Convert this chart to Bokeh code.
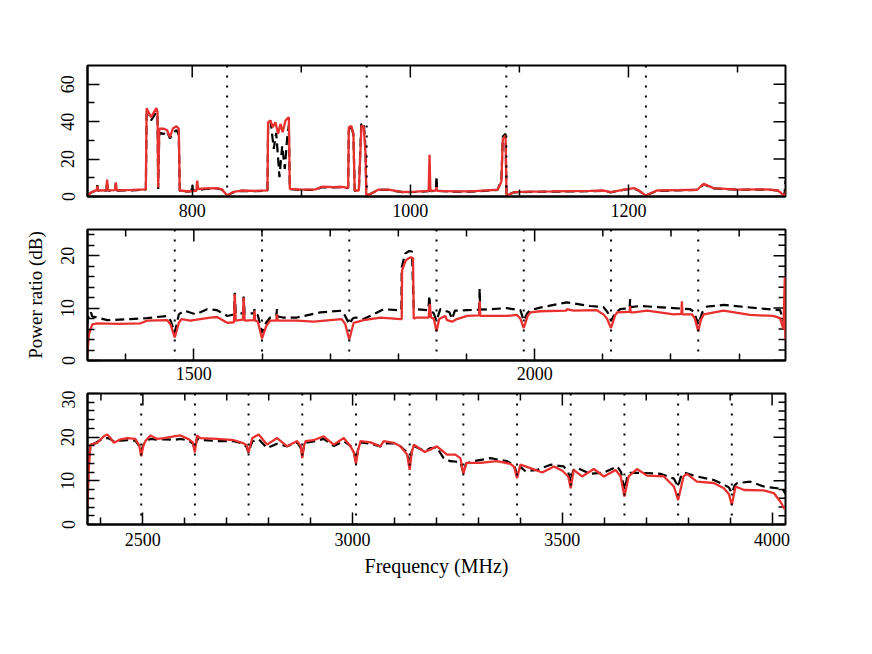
import math
from bokeh.plotting import figure
from bokeh.models import Range1d, FixedTicker, Span
from bokeh.layouts import column
from bokeh.embed import file_html
from bokeh.resources import INLINE

FONT = "Liberation Serif"
RED = "#e8312f"

# ---------------- data: (frequency MHz, power ratio dB) ----------------
RED_BAND1 = [
    (704, 0.5), (707, 2.0), (710, 3.0), (712.3, 3.2), (713, 5.5), (713.8, 3.2), (721.3, 3.3), (722, 9.0),
    (722.8, 3.3), (729.3, 3.4), (730, 7.5), (730.8, 3.3), (745, 3.5), (757.5, 3.8), (758.2, 47.2),
    (762.3, 42.4), (767.2, 47.2), (768.2, 45.0), (768.8, 5.0), (769.8, 36.2), (774, 36.2), (777, 35.4),
    (779.5, 31.7), (782.5, 36.5), (785.6, 37.5), (787.7, 36.2), (788.6, 3.2), (795, 2.8), (803.8, 3.0),
    (804.6, 8.5), (805.4, 4.0), (812, 4.3), (822, 4.5), (827, 4.0), (832, 0.5), (838, 2.5), (845, 3.2),
    (858, 3.0), (869, 3.3), (869.6, 39.7), (871.8, 40.6), (873.9, 37.0), (876.3, 39.7), (878.8, 33.5),
    (880.9, 38.8), (883, 34.4), (885.5, 40.6), (888.6, 42.4), (889.5, 4.1), (900, 3.7), (913, 3.8),
    (919, 5.2), (930, 5.0), (937, 5.2), (943, 4.6), (943.6, 37.0), (946, 37.6), (947.8, 33.5), (949, 3.2),
    (952.8, 3.2), (955.2, 37.9), (957.3, 37.0), (959, 21.9), (959.6, 0.9), (962, 0.9), (971, 3.7),
    (980, 3.7), (993, 2.4), (1005, 2.6), (1016.8, 3.0), (1017.6, 22.3), (1018.4, 3.0), (1023.4, 3.2),
    (1024, 5.0), (1024.6, 3.0), (1040, 2.7), (1055, 2.7), (1070, 3.3), (1080, 3.6), (1083.5, 8.0),
    (1084.8, 30.8), (1087.3, 32.6), (1088.2, 0.5), (1095, 2.3), (1110, 2.6), (1130, 2.7), (1147, 2.9),
    (1165, 3.0), (1177.5, 3.2), (1183.6, 2.3), (1195, 3.6), (1205, 4.5), (1210, 3.0), (1216, 0.5),
    (1226, 3.2), (1245, 3.4), (1263, 3.6), (1269, 6.8), (1278, 4.5), (1300, 3.7), (1320, 3.8),
    (1330, 3.7), (1337, 3.2), (1343, 0.5),
]
RED_BAND2 = [
    (1344, 1.5), (1346, 5.0), (1351, 6.9), (1358, 7.1), (1390, 7.0), (1422, 7.1), (1431.5, 7.6),
    (1461, 7.7), (1466, 6.8), (1472, 4.4), (1478, 7.2), (1482, 7.9), (1495, 7.6), (1524, 8.2), (1534, 8.3),
    (1549, 7.2), (1559, 7.3), (1560, 12.7), (1561.5, 7.6), (1572, 7.8), (1573, 12.0), (1574.5, 7.6),
    (1588, 7.7), (1589, 9.5), (1590, 7.6), (1594, 7.4), (1600, 4.2), (1606, 6.5), (1612, 7.6), (1621, 7.6),
    (1622, 8.8), (1623, 7.6), (1651, 7.6), (1676, 7.4), (1700, 7.7), (1717, 7.9), (1722, 7.0), (1728, 4.0),
    (1734.5, 7.2), (1749, 7.7), (1774, 8.2), (1803, 7.9), (1805, 7.9), (1805.5, 17.2), (1808, 18.1),
    (1811, 19.1), (1815, 19.5), (1818.6, 19.7), (1821.6, 19.5), (1822.6, 8.0), (1827, 8.2), (1844.5, 8.2),
    (1846, 10.8), (1848, 8.2), (1852, 8.0), (1856, 5.6), (1860, 7.9), (1864, 8.2), (1869, 8.5),
    (1871.4, 7.7), (1879, 7.4), (1886, 7.9), (1901, 8.5), (1918.5, 8.6), (1919.3, 11.4), (1920.2, 8.5),
    (1959, 8.5), (1974, 8.7), (1979, 8.0), (1984, 6.2), (1990, 8.6), (1994, 9.2), (2008, 9.4),
    (2046.5, 9.5), (2047, 9.8), (2057, 9.5), (2091, 9.6), (2101, 8.8), (2106, 8.0), (2112, 6.2),
    (2118, 8.6), (2121, 9.2), (2139.3, 9.3), (2140, 10.4), (2140.8, 9.2), (2145, 9.2), (2165, 9.5),
    (2204, 8.8), (2215.3, 8.9), (2216, 11.3), (2216.8, 8.8), (2231, 8.8), (2235, 8.0), (2240, 5.6),
    (2244, 7.8), (2248, 8.8), (2277, 9.5), (2316, 8.7), (2350, 8.5), (2360, 8.1), (2365, 6.0),
    (2367, 15.9),
]
RED_BAND3 = [
    (2368, 4.0), (2371, 12.5), (2375, 18.3), (2391, 18.7), (2407, 20.2), (2415, 20.6), (2423, 19.8),
    (2431, 18.7), (2447, 19.5), (2463, 19.8), (2482, 19.6), (2491, 18.2), (2496, 15.6), (2501, 18.0),
    (2506, 19.1), (2518, 20.4), (2534, 19.6), (2550, 19.8), (2574, 20.2), (2590, 20.4), (2610, 19.5),
    (2619, 18.8), (2624, 16.5), (2629, 20.4), (2637, 19.8), (2677, 19.6), (2717, 19.3), (2737, 18.7),
    (2747, 18.2), (2752, 16.5), (2757, 18.5), (2761, 19.8), (2776, 20.6), (2796, 18.3), (2820, 19.8),
    (2844, 17.9), (2868, 19.1), (2876, 18.0), (2880, 15.2), (2884, 18.0), (2888, 19.1), (2907, 19.3),
    (2931, 20.2), (2955, 18.3), (2979, 19.8), (2995, 17.9), (3003, 16.5), (3008, 13.9), (3013, 17.0),
    (3019, 19.1), (3043, 18.8), (3066, 17.9), (3074, 19.1), (3098, 18.7), (3114, 17.9), (3130, 16.0),
    (3136, 12.5), (3141, 16.5), (3146, 18.3), (3172, 16.6), (3186, 17.2), (3201, 17.9), (3225, 16.0),
    (3245, 16.0), (3257, 15.2), (3264, 11.6), (3271, 14.1), (3305, 14.1), (3344, 14.5), (3376, 13.9),
    (3385, 13.2), (3392, 10.6), (3400, 13.7), (3424, 12.9), (3452, 11.9), (3480, 13.3), (3500, 12.3),
    (3514, 11.0), (3520, 8.3), (3527, 12.5), (3547, 11.0), (3575, 12.7), (3599, 11.0), (3627, 12.5),
    (3639, 11.0), (3648, 6.4), (3658, 11.0), (3678, 12.7), (3702, 11.2), (3742, 11.0), (3766, 8.7),
    (3776, 5.6), (3789, 11.0), (3797, 11.6), (3821, 9.8), (3861, 9.5), (3885, 8.3), (3897, 7.0),
    (3904, 4.5), (3913, 8.7), (3933, 7.9), (3980, 7.8), (4004, 7.2), (4020, 5.2), (4030, 3.5),
]

BLACK_BAND1 = [
    (704, 0.5), (707, 2.0), (710, 2.8), (712.3, 3.0), (713, 6.0), (713.8, 3.0), (721.3, 3.1), (722, 8.0),
    (722.8, 3.1), (729.3, 3.2), (730, 7.0), (730.8, 3.1), (745, 3.3), (757.5, 3.6), (758.2, 44.0),
    (762.3, 40.7), (767.2, 45.0), (768.2, 43.0), (768.8, 4.0), (769.8, 34.0), (774, 33.5), (777, 35.0),
    (779.5, 31.0), (782.5, 34.0), (785.6, 35.5), (787.7, 33.0), (788.6, 3.0), (795, 2.6), (799.3, 2.8),
    (800, 6.6), (800.7, 3.0), (812, 4.0), (822, 4.3), (827, 3.8), (832, 0.6), (838, 2.3), (845, 3.0),
    (858, 2.8), (869, 3.1), (869.6, 38.0), (871.8, 40.6), (874.8, 25.5), (877, 34.0), (878.8, 20.1),
    (880, 10.3), (882.5, 27.0), (884.9, 14.8), (887, 30.8), (888.6, 38.0), (889.5, 4.0), (900, 3.5),
    (913, 3.6), (919, 5.0), (930, 4.8), (937, 5.0), (943, 4.4), (943.6, 35.0), (945.5, 38.5),
    (947.8, 33.0), (949, 3.0), (952.8, 3.0), (955, 38.5), (957.3, 39.5), (959, 25.0), (959.6, 1.0),
    (962, 1.0), (971, 3.5), (980, 3.5), (993, 2.3), (1005, 2.5), (1016.8, 2.8), (1017.6, 6.0),
    (1018.4, 2.8), (1023.4, 3.0), (1024, 11.0), (1024.6, 3.0), (1040, 2.6), (1055, 2.6), (1070, 3.1),
    (1080, 3.5), (1083.5, 9.0), (1084.8, 32.0), (1087.3, 33.5), (1088.2, 0.6), (1095, 2.2), (1110, 2.5),
    (1130, 2.6), (1147, 2.7), (1165, 2.9), (1177.5, 3.0), (1183.6, 2.2), (1195, 3.5), (1205, 4.3),
    (1210, 2.9), (1216, 0.6), (1226, 3.0), (1245, 3.3), (1263, 3.5), (1269, 6.5), (1278, 4.3),
    (1300, 3.6), (1320, 3.7), (1330, 3.6), (1337, 3.1), (1343, 0.6),
]
BLACK_BAND2 = [
    (1344, 8.2), (1348, 8.4), (1349, 9.2), (1351, 8.4), (1358, 8.2), (1373, 7.7), (1407, 7.9),
    (1431.5, 8.1), (1461, 8.5), (1466, 7.6), (1472, 5.3), (1478, 8.8), (1486, 9.5), (1503, 8.8),
    (1519.5, 9.8), (1534, 9.6), (1549, 8.5), (1559, 8.8), (1560, 12.9), (1561.5, 9.0), (1572, 9.0),
    (1573, 12.2), (1574.5, 9.0), (1588, 9.0), (1589, 9.8), (1590, 9.0), (1594, 8.6), (1600, 5.3),
    (1606, 7.2), (1612, 8.2), (1621, 8.5), (1622, 9.8), (1623, 8.4), (1631, 8.2), (1651, 8.2),
    (1686, 9.2), (1717, 9.5), (1722, 8.5), (1728, 6.9), (1733, 8.0), (1737, 8.2), (1749, 7.9),
    (1779, 9.8), (1798, 9.6), (1804.5, 9.6), (1805, 17.8), (1810, 20.4), (1816, 20.9), (1820, 20.8),
    (1822.6, 9.8), (1844, 9.6), (1845.5, 12.4), (1847, 9.6), (1852, 9.0), (1856, 7.6), (1861.6, 9.8),
    (1875, 9.2), (1878.7, 7.9), (1883, 9.5), (1900.7, 9.6), (1918.5, 9.7), (1919.3, 13.7),
    (1920.1, 9.7), (1935, 9.8), (1959, 10.0), (1979, 9.6), (1984, 7.6), (1989, 9.0), (1993.6, 9.6),
    (2008, 10.1), (2047, 11.1), (2081.5, 10.4), (2101, 10.2), (2107, 9.2), (2112, 7.6), (2118, 9.0),
    (2125.5, 9.8), (2139.3, 10.0), (2140, 11.7), (2140.8, 10.2), (2155, 10.4), (2204, 10.0),
    (2228, 9.8), (2234, 9.2), (2240, 6.9), (2246, 9.2), (2253, 10.3), (2277, 10.6), (2326, 10.0),
    (2360, 9.6), (2365, 7.6),
]
BLACK_BAND3 = [
    (2368, 8.0), (2371, 14.0), (2375, 18.0), (2391, 18.9), (2407, 19.8), (2415, 19.8), (2423, 19.5),
    (2431, 19.0), (2447, 19.2), (2463, 19.3), (2482, 19.2), (2491, 18.0), (2496, 16.8), (2501, 18.2),
    (2506, 19.0), (2518, 19.6), (2534, 19.4), (2550, 19.5), (2574, 19.4), (2590, 19.6), (2610, 19.2),
    (2619, 18.5), (2624, 17.2), (2629, 19.6), (2637, 19.4), (2677, 19.1), (2717, 19.1), (2737, 18.6),
    (2747, 17.8), (2752, 16.4), (2757, 18.0), (2761, 19.0), (2776, 19.5), (2796, 17.5), (2820, 18.5),
    (2844, 17.9), (2868, 18.8), (2876, 17.6), (2880, 16.0), (2884, 17.8), (2888, 18.7), (2907, 19.0),
    (2931, 19.6), (2955, 18.0), (2979, 19.1), (2995, 18.0), (3003, 16.5), (3008, 14.5), (3013, 17.2),
    (3019, 18.8), (3043, 18.5), (3066, 17.9), (3074, 18.6), (3098, 18.6), (3114, 17.9), (3130, 16.5),
    (3136, 13.8), (3141, 16.8), (3146, 18.0), (3172, 16.8), (3186, 17.5), (3201, 17.6), (3217, 15.2),
    (3233, 14.5), (3257, 14.3), (3264, 11.9), (3271, 14.0), (3289, 14.5), (3329, 15.2), (3368, 14.5),
    (3385, 13.6), (3392, 11.5), (3400, 13.2), (3412, 12.2), (3440, 12.5), (3472, 13.7), (3503, 13.3),
    (3514, 12.0), (3520, 9.8), (3526, 12.4), (3535, 13.0), (3567, 11.6), (3599, 11.9), (3631, 13.3),
    (3640, 12.0), (3648, 7.9), (3655, 11.0), (3662, 11.8), (3694, 11.8), (3734, 11.6), (3766, 10.5),
    (3776, 8.7), (3782, 10.8), (3790, 11.9), (3821, 11.0), (3861, 10.2), (3885, 9.1), (3897, 8.5),
    (3904, 7.2), (3911, 9.0), (3917, 9.5), (3948, 9.8), (3980, 8.7), (4012, 8.3), (4024, 8.3),
    (4032, 7.0),
]

DOTTED_MHZ = [832, 960, 1088, 1216, 1472, 1600, 1728, 1856, 1984, 2112, 2240,
              2496, 2624, 2752, 2880, 3008, 3136, 3264, 3392, 3520, 3648, 3776, 3904]

X_RANGES = [(704, 1344), (1344, 2368), (2368, 4032)]
Y_RANGES = [(0, 70), (0, 25), (0, 30)]
X_MAJOR = [[800, 1000, 1200], [1500, 2000], [2500, 3000, 3500, 4000]]
X_MINOR = [[900, 1100, 1300],
           [1400, 1600, 1700, 1800, 1900, 2100, 2200, 2300],
           [2400, 2600, 2700, 2800, 2900, 3100, 3200, 3300, 3400, 3600, 3700, 3800, 3900]]
Y_MAJOR = [[0, 20, 40, 60], [0, 10, 20], [0, 10, 20, 30]]
Y_MINOR = [[10, 30, 50],
           [2, 4, 6, 8, 12, 14, 16, 18, 22, 24],
           [2, 4, 6, 8, 12, 14, 16, 18, 22, 24, 26, 28]]

Y_LABEL = "Power ratio (dB)"
X_LABEL = "Frequency (MHz)"

RED_ALL = RED_BAND1 + RED_BAND2 + RED_BAND3
BLACK_ALL = BLACK_BAND1 + BLACK_BAND2 + BLACK_BAND3

LAYOUT = [
    dict(top=65, bottom=30, xstand=7),
    dict(top=3, bottom=30, xstand=6),
    dict(top=3, bottom=72, xstand=8),
]

MAJOR_LEN = 12
MINOR_LEN = 7


def style_axis(ax):
    ax.axis_line_color = "black"
    ax.axis_line_width = 2
    ax.major_tick_line_color = "black"
    ax.major_tick_line_width = 1.5
    ax.minor_tick_line_color = "black"
    ax.minor_tick_line_width = 1.5
    ax.major_tick_in = MAJOR_LEN
    ax.major_tick_out = 0
    ax.minor_tick_in = MINOR_LEN
    ax.minor_tick_out = 0
    ax.major_label_text_font = FONT
    ax.major_label_text_color = "black"
    ax.major_label_text_font_size = "18px"


figs = []
for i in range(3):
    lay = LAYOUT[i]
    x0, x1 = X_RANGES[i]
    y0, y1 = Y_RANGES[i]
    p = figure(frame_width=698, frame_height=131,
               x_range=Range1d(x0, x1), y_range=Range1d(y0, y1),
               output_backend="svg", toolbar_location=None,
               min_border_left=87, min_border_right=12,
               min_border_top=lay["top"], min_border_bottom=lay["bottom"])
    p.grid.grid_line_color = None
    p.outline_line_color = "black"
    p.outline_line_width = 2
    p.background_fill_color = "white"
    p.border_fill_color = "white"

    xax = p.below[0]
    yax = p.left[0]
    xax.ticker = FixedTicker(ticks=X_MAJOR[i], minor_ticks=X_MINOR[i])
    yax.ticker = FixedTicker(ticks=Y_MAJOR[i], minor_ticks=Y_MINOR[i])
    style_axis(xax)
    style_axis(yax)
    xax.major_label_standoff = lay["xstand"]
    yax.major_label_orientation = "vertical"
    yax.major_label_standoff = 13

    # mirrored inward ticks on the top and right edges
    for ticks, ln in ((X_MAJOR[i], MAJOR_LEN), (X_MINOR[i], MINOR_LEN)):
        p.ray(x=ticks, y=[y1] * len(ticks), length=ln, length_units="screen",
              angle=-math.pi / 2, line_color="black", line_width=1.5)
    for ticks, ln in ((Y_MAJOR[i], MAJOR_LEN), (Y_MINOR[i], MINOR_LEN)):
        p.ray(x=[x1] * len(ticks), y=ticks, length=ln, length_units="screen",
              angle=math.pi, line_color="black", line_width=1.5)

    for f in DOTTED_MHZ:
        if x0 < f < x1:
            p.add_layout(Span(location=f, dimension="height", line_color="black",
                              line_width=2, line_dash="2 8"))

    p.line([f for f, v in BLACK_ALL], [v for f, v in BLACK_ALL],
           line_color="black", line_width=2.2, line_dash="9 5")
    p.line([f for f, v in RED_ALL], [v for f, v in RED_ALL],
           line_color=RED, line_width=2.3)

    if i == 1:
        yax.axis_label = Y_LABEL
        yax.axis_label_text_font = FONT
        yax.axis_label_text_font_size = "19px"
        yax.axis_label_text_font_style = "normal"
        yax.axis_label_text_color = "black"
        yax.axis_label_standoff = 13
    if i == 2:
        xax.axis_label = X_LABEL
        xax.axis_label_text_font = FONT
        xax.axis_label_text_font_size = "20px"
        xax.axis_label_text_font_style = "normal"
        xax.axis_label_text_color = "black"
        xax.axis_label_standoff = 6
    figs.append(p)

layout = column(*figs, spacing=0)
open("out.html", "w").write(file_html(layout, INLINE))
